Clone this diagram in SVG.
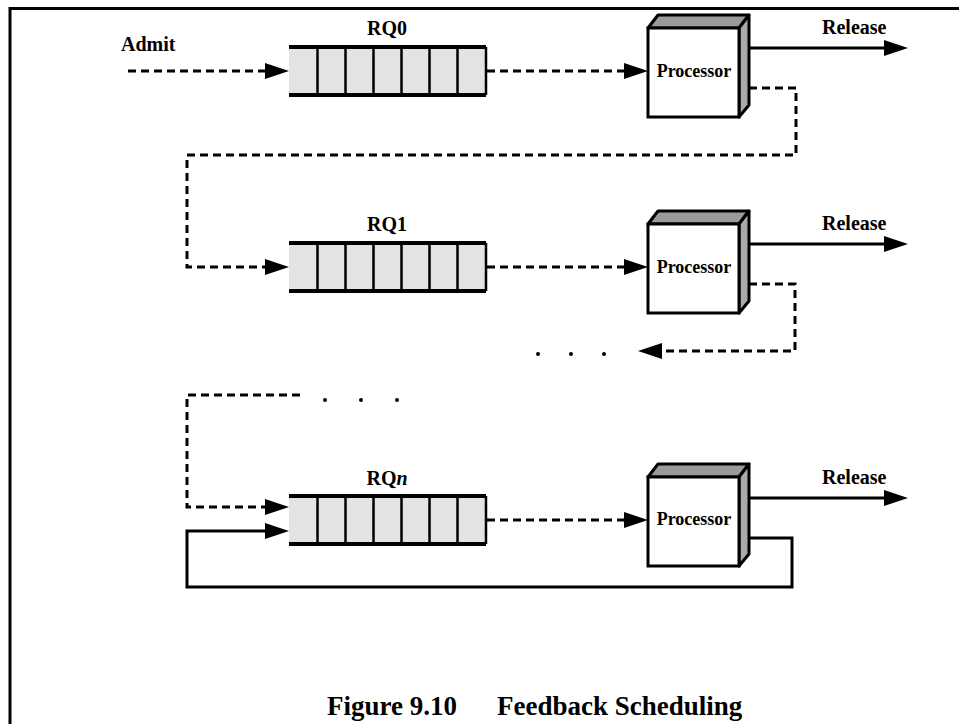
<svg xmlns="http://www.w3.org/2000/svg" width="959" height="724" viewBox="0 0 959 724">
<style>
text{font-family:"Liberation Serif","Times New Roman",serif;font-weight:bold;fill:#000}
.lbl{font-size:20px}
.proc{font-size:18px;text-anchor:middle}
.rq{font-size:20px;text-anchor:middle}
.cap{font-size:27px}
.dash{fill:none;stroke:#000;stroke-width:3;stroke-dasharray:8 5}
.solid{fill:none;stroke:#000;stroke-width:3}
.qfill{fill:#e3e3e3;stroke:none}
.qedge{stroke:#000;stroke-width:4;fill:none}
.qdiv{stroke:#000;stroke-width:2.5;fill:none}
.front{fill:#fff;stroke:#000;stroke-width:3}
.top{fill:#9a9a9a;stroke:#000;stroke-width:3;stroke-linejoin:round}
.side{fill:#aaa;stroke:#000;stroke-width:3;stroke-linejoin:round}
.ah{fill:#000;stroke:none}
</style>
<defs>
<marker id="arr" markerUnits="userSpaceOnUse" markerWidth="26" markerHeight="18" refX="0" refY="8" orient="auto" overflow="visible">
<path class="ah" d="M0,0 L24,8 L0,16 z"/>
</marker>
<g id="queueShape">
<rect class="qfill" x="289" y="0" width="197" height="48"/>
<path class="qedge" d="M289,0 H486 M289,48 H486"/>
<path class="qdiv" d="M486,0 V48 M317.5,0 V48 M345.5,0 V48 M373.5,0 V48 M401.5,0 V48 M429.5,0 V48 M457.5,0 V48"/>
</g>
<g id="procShape">
<polygon class="top" points="648,0 658,-13 749,-13 739,0"/>
<polygon class="side" points="739,0 749,-13 749,77 739,89"/>
<rect class="front" x="648" y="0" width="91" height="89"/>
</g>
</defs>

<g id="frame">
<path d="M10,724 V8.5 H959" fill="none" stroke="#000" stroke-width="3"/>
</g>

<g id="connectors">
<path class="dash" d="M128,71 H265" marker-end="url(#arr)"/>
<path class="dash" d="M487,71 H624" marker-end="url(#arr)"/>
<path class="solid" d="M749,48 H884" marker-end="url(#arr)"/>
<path class="dash" d="M749,88 H796 V155 H187 V267 H265" marker-end="url(#arr)"/>
<path class="dash" d="M487,267 H624" marker-end="url(#arr)"/>
<path class="solid" d="M749,244 H884" marker-end="url(#arr)"/>
<path class="dash" d="M749,284 H795 V351 H662" marker-end="url(#arr)"/>
<path class="dash" d="M300,395 H187 V507 H265" marker-end="url(#arr)"/>
<path class="dash" d="M487,520 H624" marker-end="url(#arr)"/>
<path class="solid" d="M749,498 H884" marker-end="url(#arr)"/>
<path class="solid" d="M749,538 H792 V587 H187 V531 H265" marker-end="url(#arr)"/>
</g>

<g id="ellipsis1">
<circle cx="538" cy="354" r="2"/>
<circle cx="571" cy="354" r="2"/>
<circle cx="604" cy="354" r="2"/>
</g>
<g id="ellipsis2">
<circle cx="325" cy="400" r="2"/>
<circle cx="361" cy="400" r="2"/>
<circle cx="397" cy="400" r="2"/>
</g>

<g id="admit">
<text class="lbl" x="121" y="51">Admit</text>
</g>

<g id="rq0">
<text class="rq" x="387" y="35">RQ0</text>
<use href="#queueShape" y="47"/>
</g>
<g id="rq1">
<text class="rq" x="387" y="231">RQ1</text>
<use href="#queueShape" y="243"/>
</g>
<g id="rqn">
<text class="rq" x="387" y="485">RQ<tspan font-style="italic">n</tspan></text>
<use href="#queueShape" y="496"/>
</g>

<g id="processor0">
<use href="#procShape" y="28"/>
<text class="proc" x="694" y="77">Processor</text>
</g>
<g id="processor1">
<use href="#procShape" y="224"/>
<text class="proc" x="694" y="273">Processor</text>
</g>
<g id="processorn">
<use href="#procShape" y="477"/>
<text class="proc" x="694" y="525">Processor</text>
</g>

<g id="release0"><text class="lbl" x="822" y="34">Release</text></g>
<g id="release1"><text class="lbl" x="822" y="230">Release</text></g>
<g id="releasen"><text class="lbl" x="822" y="484">Release</text></g>

<g id="caption">
<text class="cap" y="715"><tspan x="327">Figure 9.10</tspan><tspan x="497">Feedback Scheduling</tspan></text>
</g>
</svg>
